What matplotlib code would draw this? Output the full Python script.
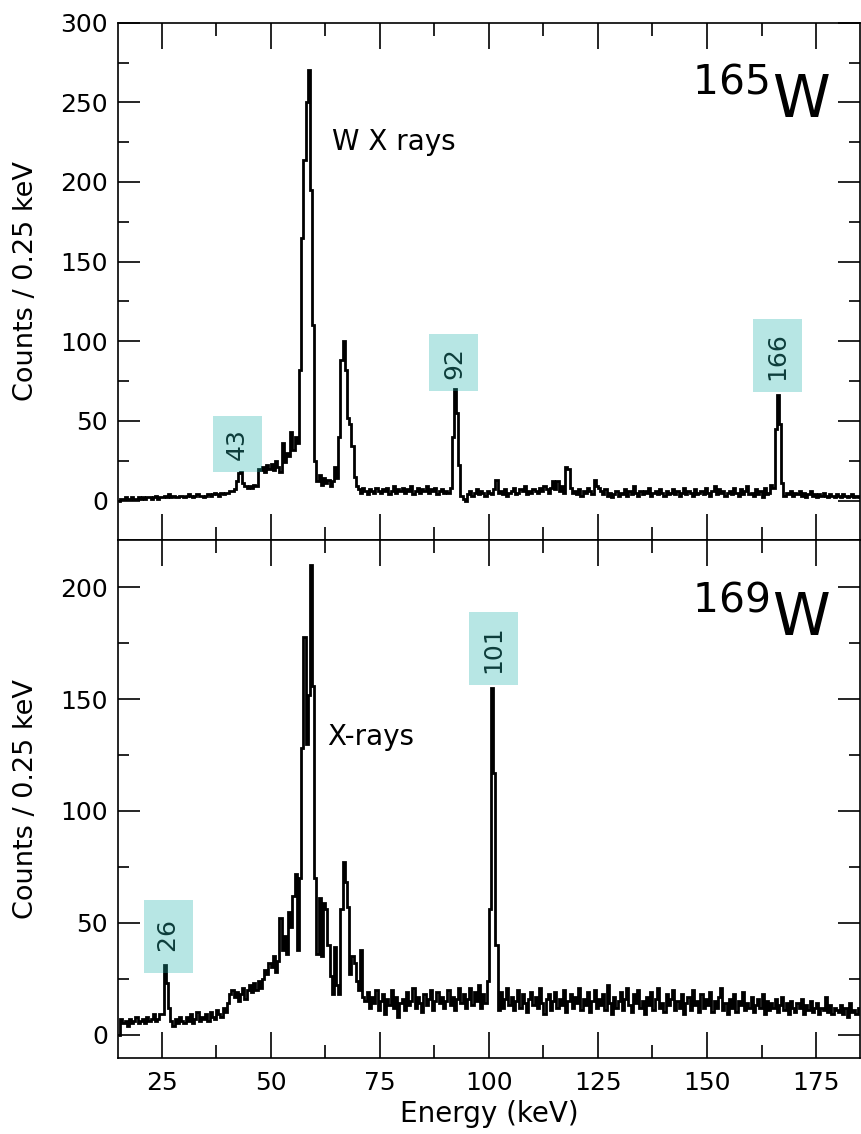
import numpy as np
import matplotlib
matplotlib.use("Agg")
import matplotlib.pyplot as plt
from matplotlib.ticker import MultipleLocator

# spectra, 0.5 keV bins starting at 15 keV
bin_start = 15.0
bin_width = 0.5

counts_165 = [
    0, 1, 1, 2, 1, 1, 2, 1, 1, 2,          # 15-20
    1, 2, 1, 2, 2, 1, 2, 3, 1, 2,          # 20-25
    2, 3, 2, 4, 2, 3, 2, 2, 3, 3,          # 25-30
    2, 3, 4, 3, 2, 3, 4, 3, 3, 2,          # 30-35
    3, 4, 3, 4, 5, 4, 3, 5, 4, 5,          # 35-40
    5, 6, 6, 7, 12, 17, 18, 11, 9, 8,      # 40-45
    9, 8, 10, 9, 20, 19, 21, 18, 22, 20,   # 45-50
    23, 19, 25, 21, 18, 36, 24, 30, 28, 43,  # 50-55
    32, 40, 36, 82, 165, 214, 250, 270, 195, 110,  # 55-60
    25, 12, 16, 10, 14, 11, 13, 9, 12, 21,  # 60-65
    14, 40, 88, 100, 82, 52, 48, 34, 15, 9,  # 65-70
    7, 5, 8, 6, 4, 7, 6, 5, 8, 6,          # 70-75
    5, 7, 6, 8, 4, 6, 9, 5, 7, 6,          # 75-80
    8, 5, 7, 6, 9, 4, 6, 8, 5, 7,          # 80-85
    6, 9, 5, 7, 6, 8, 4, 6, 7, 5,          # 85-90
    6, 5, 8, 40, 70, 55, 22, 3, 1, 0,      # 90-95
    4, 6, 3, 5, 7, 4, 6, 5, 3, 6,          # 95-100
    5, 4, 7, 13, 5, 6, 4, 7, 3, 5,         # 100-105
    6, 8, 4, 5, 7, 6, 9, 4, 6, 5,          # 105-110
    7, 6, 5, 8, 6, 9, 7, 5, 8, 12,         # 110-115
    7, 12, 6, 9, 5, 21, 20, 8, 5, 6,       # 115-120
    4, 7, 3, 6, 5, 8, 6, 4, 13, 9,         # 120-125
    8, 6, 4, 7, 3, 5, 2, 4, 6, 3,          # 125-130
    5, 4, 7, 3, 6, 4, 9, 5, 3, 6,          # 130-135
    4, 6, 5, 8, 3, 5, 6, 4, 7, 5,          # 135-140
    3, 6, 4, 5, 7, 4, 6, 3, 5, 8,          # 140-145
    4, 6, 5, 3, 7, 4, 5, 6, 4, 8,          # 145-150
    5, 3, 6, 9, 4, 7, 5, 6, 3, 5,          # 150-155
    6, 4, 8, 5, 3, 7, 4, 6, 9, 4,          # 155-160
    5, 3, 7, 4, 6, 2, 8, 4, 5, 10,         # 160-165
    8, 45, 66, 48, 11, 3, 5, 4, 6, 3,      # 165-170
    5, 4, 6, 3, 5, 2, 4, 6, 3, 4,          # 170-175
    2, 4, 3, 5, 3, 2, 4, 3, 2, 4,          # 175-180
    3, 2, 4, 3, 2, 3, 4, 2, 3, 2,          # 180-185
]

counts_169 = [
    0, 7, 5, 6, 4, 7, 5, 6, 8, 5,          # 15-20
    6, 7, 5, 8, 6, 7, 9, 6, 7, 9,          # 20-25
    9, 31, 23, 12, 6, 4, 7, 5, 8, 6,       # 25-30
    5, 8, 6, 9, 5, 7, 10, 6, 8, 7,         # 30-35
    9, 6, 10, 8, 7, 11, 9, 8, 12, 10,      # 35-40
    14, 18, 20, 17, 19, 15, 18, 21, 16, 20,  # 40-45
    22, 19, 23, 20, 24, 21, 25, 29, 27, 32,  # 45-50
    30, 35, 28, 33, 52, 38, 44, 36, 55, 48,  # 50-55
    62, 72, 38, 70, 128, 178, 130, 152, 210, 156,  # 55-60
    70, 36, 61, 35, 59, 56, 40, 26, 18, 39,  # 60-65
    22, 18, 56, 77, 68, 57, 27, 35, 32, 24,  # 65-70
    20, 38, 17, 15, 19, 12, 17, 14, 20, 11,  # 70-75
    15, 18, 9, 16, 13, 20, 12, 17, 8, 14,  # 75-80
    16, 11, 19, 13, 15, 21, 12, 17, 14, 10,  # 80-85
    18, 13, 16, 20, 11, 15, 19, 14, 17, 12,  # 85-90
    15, 20, 13, 17, 11, 16, 21, 14, 18, 12,  # 90-95
    16, 21, 13, 19, 15, 22, 12, 18, 14, 24,  # 95-100
    56, 155, 117, 40, 11, 19, 12, 16, 21, 13,  # 100-105
    17, 11, 15, 20, 12, 18, 14, 10, 16, 19,  # 105-110
    13, 17, 12, 21, 14, 9, 16, 18, 11, 15,  # 110-115
    19, 12, 16, 13, 20, 10, 15, 18, 12, 17,  # 115-120
    14, 21, 11, 16, 13, 19, 10, 15, 20, 12,  # 120-125
    16, 13, 18, 11, 22, 14, 9, 17, 12, 15,  # 125-130
    19, 11, 16, 21, 13, 10, 18, 14, 20, 12,  # 130-135
    15, 9, 17, 13, 19, 11, 16, 21, 12, 14,  # 135-140
    10, 18, 13, 16, 20, 11, 15, 12, 18, 9,  # 140-145
    14, 17, 11, 20, 13, 15, 10, 18, 12, 16,  # 145-150
    13, 19, 10, 15, 12, 17, 21, 11, 14, 9,  # 150-155
    16, 12, 18, 10, 15, 13, 19, 11, 14, 12,  # 155-160
    17, 10, 13, 16, 12, 18, 9, 15, 11, 14,  # 160-165
    12, 16, 10, 13, 17, 11, 14, 9, 15, 12,  # 165-170
    10, 14, 12, 16, 9, 13, 11, 15, 10, 12,  # 170-175
    14, 9, 12, 11, 17, 10, 13, 9, 12, 11,  # 175-180
    10, 13, 9, 12, 8, 14, 10, 11, 9, 12,   # 180-185
]

# peak labels: (text, energy, height of label centre)
peaks_165 = [("43", 42.3, 35.5), ("92", 92.0, 86.5), ("166", 166.2, 91.0)]
peaks_169 = [(" 26 ", 26.6, 44.0), ("101", 101.0, 172.5)]

box_face = (0.13, 0.70, 0.67, 0.32)
label_color = "#0d3d3b"

fig, (ax1, ax2) = plt.subplots(2, 1, sharex=True, figsize=(8.61, 11.34), dpi=100)
fig.subplots_adjust(left=0.137, right=0.9985, top=0.980, bottom=0.067, hspace=0)


def draw_panel(ax, counts, peaks, isotope, xray_text, xray_pos, ylim, ymax):
    edges = bin_start + bin_width * np.arange(len(counts) + 1)
    ax.stairs(counts, edges, color="black", lw=2.0, baseline=None)
    ax.set_xlim(15, 185)
    ax.set_ylim(*ylim)
    ax.set_yticks(np.arange(0, ymax + 1, 50))
    ax.yaxis.set_minor_locator(MultipleLocator(25))
    ax.xaxis.set_major_locator(MultipleLocator(25))
    ax.xaxis.set_minor_locator(MultipleLocator(12.5))
    ax.tick_params(which="both", direction="in", top=True, right=True, width=1.2, labelsize=18)
    ax.tick_params(axis="y", which="major", length=15.5, pad=7)
    ax.tick_params(axis="y", which="minor", length=8)
    ax.tick_params(axis="x", which="major", length=19, pad=9)
    ax.tick_params(axis="x", which="minor", length=9.5)
    for s in ax.spines.values():
        s.set_linewidth(1.2)
    ax.set_ylabel("Counts / 0.25 keV", fontsize=19.5)
    ax.yaxis.set_label_coords(-0.106, 0.5)
    for txt, e, h in peaks:
        ax.text(e, h, txt, rotation=90, ha="center", va="center", fontsize=18,
                color=label_color,
                bbox=dict(boxstyle="square,pad=0.5", facecolor=box_face, edgecolor="none"))
    ax.text(xray_pos[0], xray_pos[1], xray_text, fontsize=20, ha="left", va="baseline")
    ax.text(0.96, 0.816, r"$^{%s}$W" % isotope, transform=ax.transAxes,
            fontsize=42, ha="right", va="baseline")


draw_panel(ax1, counts_165, peaks_165, "165", "W X rays", (64.1, 220), (-25, 300), 300)
draw_panel(ax2, counts_169, peaks_169, "169", "X-rays", (63.0, 129.5), (-10.5, 221), 200)

ax1.tick_params(labelbottom=False)
ax2.set_xlabel("Energy (keV)", fontsize=20, labelpad=4)

fig.savefig("out.png", dpi=100)
